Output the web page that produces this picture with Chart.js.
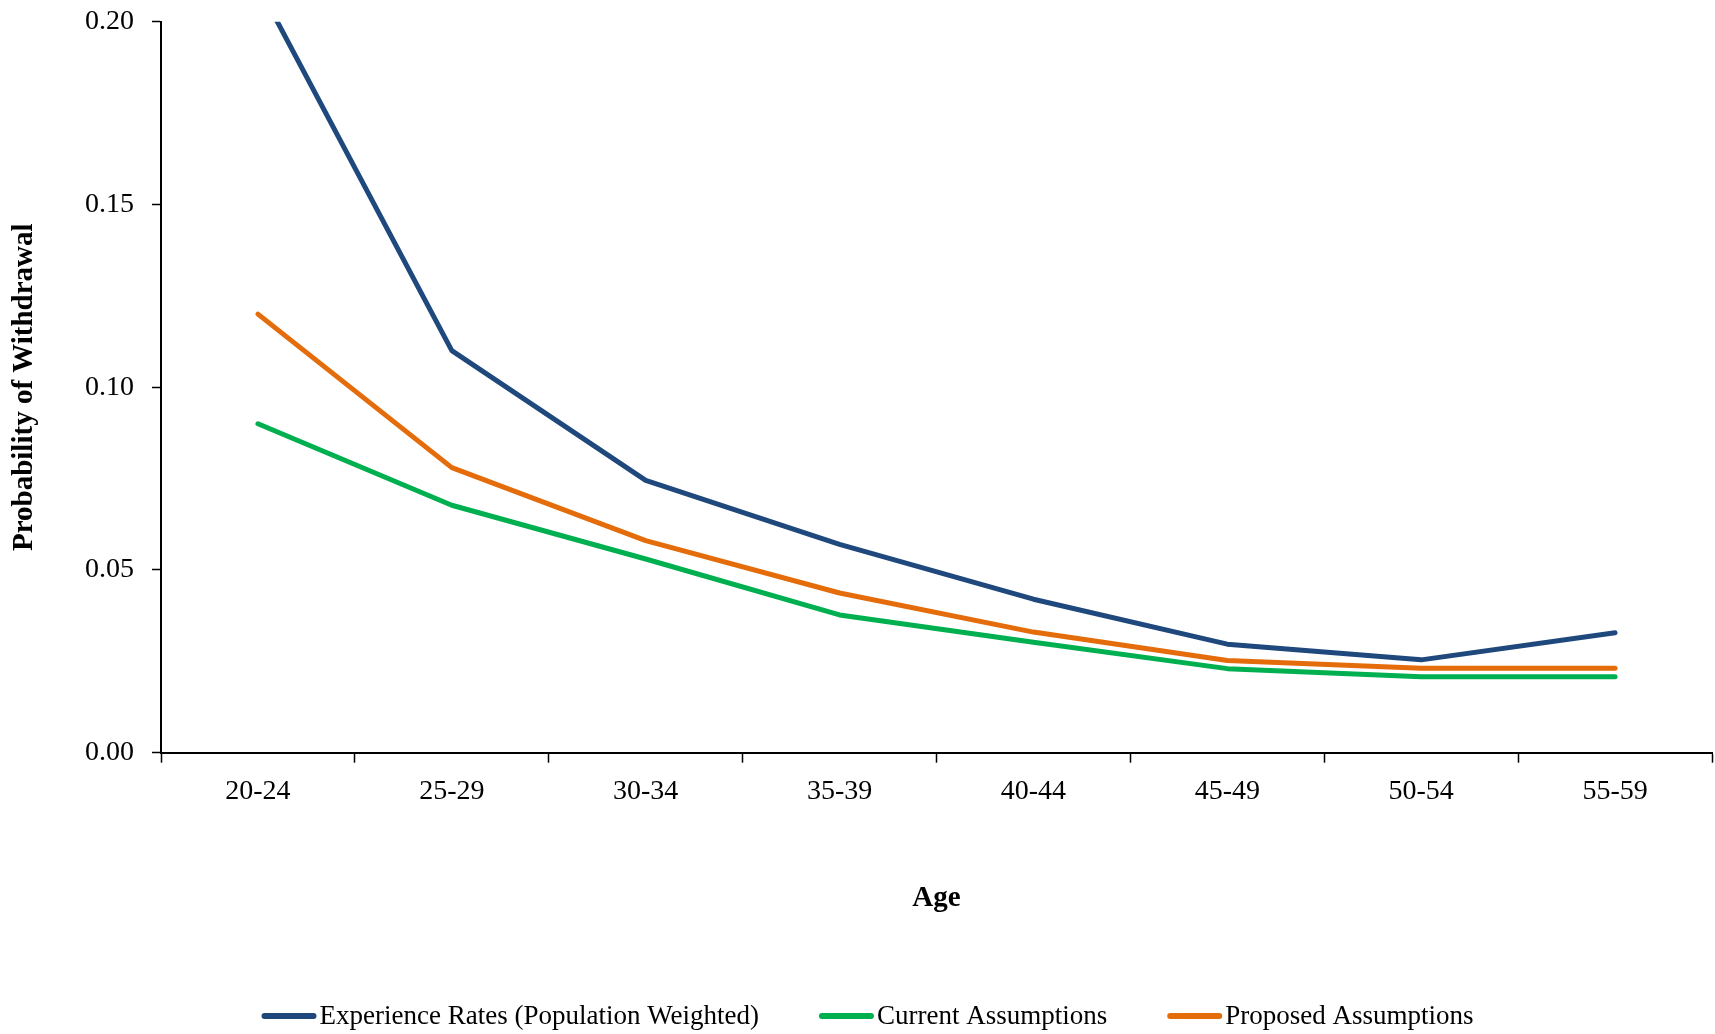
<!DOCTYPE html>
<html>
<head>
<meta charset="utf-8">
<script src="https://cdn.jsdelivr.net/npm/chart.js@4/dist/chart.umd.min.js"></script>
<style>
  html, body { margin: 0; padding: 0; background: #ffffff; }
  #wrap { width: 1715px; height: 1034px; position: relative; }
</style>
</head>
<body>
<div id="wrap"><canvas id="chart" width="1715" height="1034"></canvas></div>
<script>
// Withdrawal probability by age band
const ageBands = ['20-24', '25-29', '30-34', '35-39', '40-44', '45-49', '50-54', '55-59'];
const experienceRates = [0.210, 0.110, 0.0745, 0.057, 0.042, 0.0297, 0.0254, 0.0328];
const currentAssumptions = [0.090, 0.0677, 0.053, 0.0377, 0.0302, 0.023, 0.0208, 0.0208];
const proposedAssumptions = [0.120, 0.078, 0.058, 0.0437, 0.033, 0.0252, 0.0231, 0.0231];
const yTicks = [0, 0.05, 0.10, 0.15, 0.20];

const serif = "'Liberation Serif', 'Times New Roman', Times, serif";

function series(label, data, color) {
  return {
    label: label,
    data: data,
    borderColor: color,
    backgroundColor: color,
    borderWidth: 5,
    borderCapStyle: 'round',
    borderJoinStyle: 'round',
    pointRadius: 0,
    pointHoverRadius: 0,
    tension: 0,
    fill: false,
    clip: 0
  };
}

// Legend row under the axis title: short line sample followed closely by its label
const lineLegend = {
  id: 'lineLegend',
  afterDraw: function (chart) {
    const ctx = chart.ctx;
    const sample = 55, gap = 3, spacing = 60, y = 1016;
    ctx.save();
    ctx.font = '27px ' + serif;
    const items = chart.data.datasets.map(function (ds) {
      return { text: ds.label, color: ds.borderColor, w: ctx.measureText(ds.label).width };
    });
    let total = 0;
    items.forEach(function (it, i) {
      total += sample + gap + it.w + (i < items.length - 1 ? spacing : 0);
    });
    let x = chart.width / 2 + 10 - total / 2;
    ctx.textBaseline = 'middle';
    ctx.textAlign = 'left';
    items.forEach(function (it) {
      ctx.beginPath();
      ctx.strokeStyle = it.color;
      ctx.lineWidth = 6;
      ctx.lineCap = 'round';
      ctx.moveTo(x + 3, y);
      ctx.lineTo(x + sample - 3, y);
      ctx.stroke();
      ctx.fillStyle = '#000000';
      ctx.fillText(it.text, x + sample + gap, y + 1);
      x += sample + gap + it.w + spacing;
    });
    ctx.restore();
  }
};

new Chart(document.getElementById('chart'), {
  type: 'line',
  data: {
    labels: ageBands,
    datasets: [
      series('Experience Rates (Population Weighted)', experienceRates, '#1F497D'),
      series('Current Assumptions', currentAssumptions, '#00B050'),
      series('Proposed Assumptions', proposedAssumptions, '#E46C0A')
    ]
  },
  plugins: [lineLegend],
  options: {
    responsive: false,
    animation: false,
    events: [],
    layout: { padding: { top: 21.7, right: 3, left: 0, bottom: 86.5 } },
    plugins: {
      tooltip: { enabled: false },
      legend: { display: false }
    },
    scales: {
      x: {
        type: 'category',
        offset: true,
        grid: {
          offset: true,
          drawOnChartArea: false,
          drawTicks: true,
          tickLength: 10,
          tickWidth: 1.5,
          tickColor: '#000000'
        },
        border: { display: true, color: '#000000', width: 2 },
        ticks: {
          color: '#000000',
          padding: 12,
          maxRotation: 0,
          font: { family: serif, size: 28 }
        },
        title: {
          display: true,
          text: 'Age',
          color: '#000000',
          font: { family: serif, size: 29, weight: 'bold' },
          padding: { top: 0, bottom: 32 }
        },
        afterFit: function (scale) { scale.height = 194.8; }
      },
      y: {
        min: 0,
        max: 0.2,
        afterBuildTicks: function (scale) {
          scale.ticks = yTicks.map(function (v) { return { value: v }; });
        },
        grid: {
          drawOnChartArea: false,
          drawTicks: true,
          tickLength: 9,
          tickWidth: 1.5,
          tickColor: '#000000'
        },
        border: { display: true, color: '#000000', width: 2 },
        ticks: {
          color: '#000000',
          padding: 18,
          font: { family: serif, size: 28 },
          callback: function (v) { return Number(v).toFixed(2); }
        },
        title: {
          display: true,
          text: 'Probability of Withdrawal',
          color: '#000000',
          font: { family: serif, size: 29, weight: 'bold' },
          padding: { top: 7, bottom: 0 }
        },
        afterFit: function (scale) {
          scale.width = 161;
          scale.paddingTop = 0;
          scale.paddingBottom = 0;
        }
      }
    }
  }
});
</script>
</body>
</html>
